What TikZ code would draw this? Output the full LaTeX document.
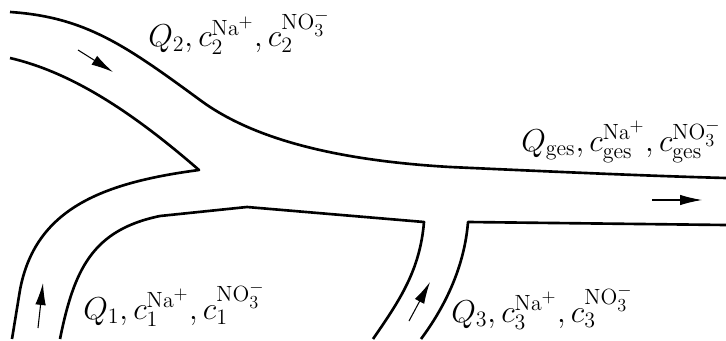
\documentclass[tikz,border=0pt]{standalone}
\usetikzlibrary{arrows.meta}

\begin{document}
\begin{tikzpicture}[
    x=0.02cm, y=-0.02cm,
    wall/.style={line width=1.5pt, line join=round},
    flowarrow/.style={-{Latex[length=4.4mm, width=2.1mm]}, line width=0.6pt},
    streamlabel/.style={
        anchor=base west, inner sep=0pt,
        font=\huge, scale=0.87
    }
]

% ── FRAME ──────────────────────────────────────────────────────
\useasboundingbox (0,0) rectangle (726,341);

% ── WALLS ──────────────────────────────────────────────────────
% upper wall: inlet 2 running into the outlet
\draw[wall] (10,12) .. controls (85,17) and (125,45) .. (200,100)
    .. controls (250,137) and (330,160) .. (450,167)
    .. controls (560,172) and (650,176) .. (726,178);

% lower wall of inlet 2, tip, outer wall of inlet 1
\draw[wall] (10,58) .. controls (70,72) and (130,110) .. (199,170)
    .. controls (100,183) and (35,210) .. (20,290) -- (12,339);

% inner wall of inlet 1, left wall of inlet 3
\draw[wall] (60,339) .. controls (74,270) and (92,230) .. (160,216)
    -- (247,207) -- (424,222)
    .. controls (420,270) and (400,300) .. (373,339);

% right wall of inlet 3, lower wall of outlet
\draw[wall] (421,339) .. controls (450,300) and (465,260) .. (468,222)
    -- (726,225);

% ── FLOW DIRECTIONS ────────────────────────────────────────────
\coordinate (in1a) at (38,328);  \coordinate (in1b) at (43,283);
\coordinate (in2a) at (78,50);   \coordinate (in2b) at (113,72);
\coordinate (in3a) at (409,321); \coordinate (in3b) at (430,282);
\coordinate (outa) at (652,200); \coordinate (outb) at (702,200);

\draw[flowarrow] (in1a) -- (in1b);
\draw[flowarrow] (in2a) -- (in2b);
\draw[flowarrow] (in3a) -- (in3b);
\draw[flowarrow] (outa) -- (outb);

% ── STREAM LABELS ──────────────────────────────────────────────
\node[streamlabel] (lbl2) at (148,47)
    {$Q_2, c_2^{\mathrm{Na}^+}, c_2^{\mathrm{NO}_3^-}$};
\node[streamlabel] (lblges) at (521,151)
    {$Q_{\mathrm{ges}}, c_{\mathrm{ges}}^{\mathrm{Na}^+},
      c_{\mathrm{ges}}^{\mathrm{NO}_3^-}$};
\node[streamlabel] (lbl1) at (83,319)
    {$Q_1, c_1^{\mathrm{Na}^+}, c_1^{\mathrm{NO}_3^-}$};
\node[streamlabel] (lbl3) at (451,322)
    {$Q_3, c_3^{\mathrm{Na}^+}, c_3^{\mathrm{NO}_3^-}$};

\end{tikzpicture}
\end{document}
